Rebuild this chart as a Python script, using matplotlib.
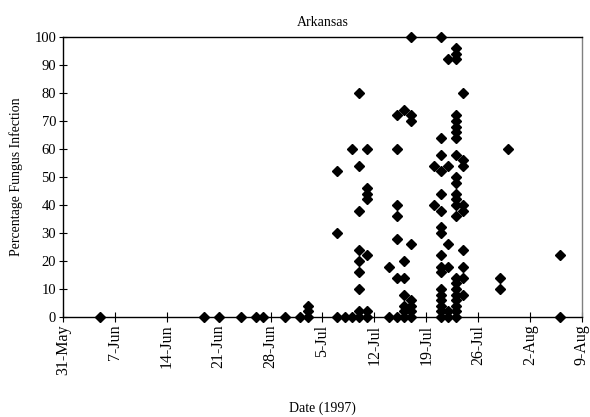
import matplotlib
matplotlib.use("Agg")
import matplotlib.pyplot as plt
import matplotlib.dates as mdates
import pandas as pd

# sampling dates (1997) and percentage infection found on each date
dates = [
    "06-05", "06-19", "06-21", "06-24", "06-26", "06-27", "06-30", "07-02",
    "07-03", "07-03", "07-03",
    "07-07", "07-07", "07-07",
    "07-08",
    "07-09", "07-09",
    "07-10", "07-10", "07-10", "07-10", "07-10", "07-10", "07-10", "07-10", "07-10",
    "07-11", "07-11", "07-11", "07-11", "07-11", "07-11", "07-11",
    "07-14", "07-14",
    "07-15", "07-15", "07-15", "07-15", "07-15", "07-15", "07-15",
    "07-16", "07-16", "07-16", "07-16", "07-16", "07-16", "07-16",
    "07-17", "07-17", "07-17", "07-17", "07-17", "07-17", "07-17", "07-17",
    "07-20", "07-20",
] + ["07-21"] * 17 + ["07-22"] * 6 + ["07-23"] * 23 + ["07-24"] * 9 + [
    "07-29", "07-29", "07-30", "08-06", "08-06",
]

infection = [
    0, 0, 0, 0, 0, 0, 0, 0,
    0, 2, 4,
    0, 30, 52,
    0,
    0, 60,
    0, 2, 10, 16, 20, 24, 38, 54, 80,
    0, 2, 22, 42, 44, 46, 60,
    0, 18,
    0, 14, 28, 36, 40, 60, 72,
    0, 2, 4, 8, 14, 20, 74,
    0, 2, 4, 6, 26, 70, 72, 100,
    40, 54,
    0, 2, 4, 6, 8, 10, 16, 18, 22, 30, 32, 38, 44, 52, 58, 64, 100,
    0, 2, 18, 26, 54, 92,
    0, 2, 4, 6, 8, 10, 12, 14, 36, 40, 42, 44, 48, 50, 58, 64, 66, 68, 70, 72, 92, 94, 96,
    8, 14, 18, 24, 38, 40, 54, 56, 80,
    10, 14, 60, 0, 22,
]

df = pd.DataFrame({"date": pd.to_datetime(["1997-" + d for d in dates]), "pct": infection})

plt.rcParams["font.family"] = ["Liberation Serif", "DejaVu Serif"]
plt.rcParams["font.size"] = 10

fig = plt.figure(figsize=(5.9, 4.17), dpi=100)
ax = fig.add_axes([0.107, 0.240, 0.879, 0.671])

ax.plot(df["date"], df["pct"], linestyle="none", marker="D", markersize=5.6,
        color="black", clip_on=False, zorder=3)

ticks = pd.date_range("1997-05-31", "1997-08-09", freq="7D")
ax.set_xlim(ticks[0], ticks[-1])
ax.set_xticks(ticks)
ax.xaxis.set_major_formatter(mdates.DateFormatter("%-d-%b"))
ax.tick_params(axis="x", rotation=90, direction="inout", length=7, width=0.8,
               pad=2, labelsize=11.5)
ax.tick_params(axis="y", direction="inout", length=6, width=0.8, pad=2, labelsize=10.5)

ax.set_ylim(0, 100)
ax.set_yticks(range(0, 101, 10))

for sp in ax.spines.values():
    sp.set_linewidth(1.0)
ax.spines["right"].set_color("#808080")

ax.set_title("Arkansas", fontsize=10, pad=8)
ax.set_ylabel("Percentage Fungus Infection", fontsize=10, labelpad=8)
ax.set_xlabel("Date (1997)", fontsize=10, labelpad=19)

fig.savefig("out.png", dpi=100)
